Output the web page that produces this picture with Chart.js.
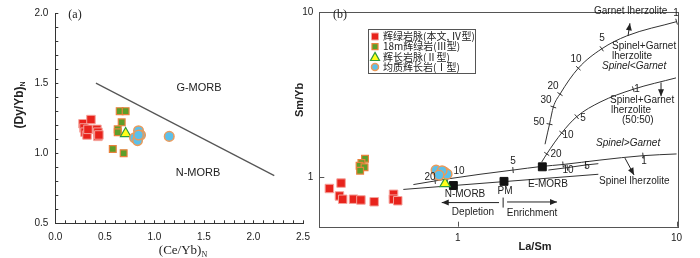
<!DOCTYPE html>
<html>
<head>
<meta charset="utf-8">
<script src="https://cdn.jsdelivr.net/npm/chart.js@4.4.0/dist/chart.umd.min.js"></script>
<style>
  body { margin: 0; background: #fff; }
  #wrap { position: relative; width: 700px; height: 258px; }
  #wrap canvas { position: absolute; left: 0; top: 0; }
</style>
</head>
<body>
<div id="wrap">
  <canvas id="chartA" width="700" height="258"></canvas>
  <canvas id="chartB" width="700" height="258"></canvas>
</div>
<script>
// ================= DATA: PANEL (a) =================
const aRedX = [0.28, 0.29, 0.30, 0.32, 0.33, 0.36, 0.42, 0.43, 0.43, 0.44];
const aRedY = [1.21, 1.18, 1.15, 1.13, 1.17, 1.24, 1.17, 1.15, 1.12, 1.13];
const aGreenX = [0.65, 0.71, 0.67, 0.63, 0.63, 0.58, 0.69];
const aGreenY = [1.30, 1.30, 1.22, 1.17, 1.15, 1.03, 1.00];
const aYellowX = [0.71];
const aYellowY = [1.14];
const aBlueX = [0.84, 0.86, 0.80, 0.83, 0.84, 1.15];
const aBlueY = [1.16, 1.13, 1.11, 1.09, 1.13, 1.12];
const aDivideX = [0.41, 2.21];
const aDivideY = [1.50, 0.84];
const aTicksX = [0.0, 0.5, 1.0, 1.5, 2.0, 2.5];
const aTicksY = [0.5, 1.0, 1.5, 2.0];

// ================= DATA: PANEL (b) =================
const bRedX = [0.259, 0.293, 0.288, 0.298, 0.334, 0.361, 0.415, 0.509, 0.508, 0.532];
const bRedY = [0.852, 0.919, 0.768, 0.733, 0.734, 0.726, 0.708, 0.786, 0.734, 0.718];
const bGreenX = [0.377, 0.363, 0.356, 0.375, 0.358];
const bGreenY = [1.290, 1.217, 1.169, 1.145, 1.092];
const bYellowX = [0.875];
const bYellowY = [0.912];
const bBlueX = [0.796, 0.839, 0.870, 0.894, 0.848, 0.821];
const bBlueY = [1.102, 1.048, 1.070, 1.041, 1.092, 1.027];
const refX = [0.955, 1.627, 2.435];   // N-MORB, PM, E-MORB
const refY = [0.888, 0.941, 1.153];
// melting curves
const garnetX = [2.505, 2.572, 2.627, 2.734, 2.933, 3.556, 4.549, 5.916, 10.0];
const garnetY = [1.580, 1.851, 2.091, 2.657, 3.180, 4.564, 5.983, 7.161, 8.74];
const mixX = [2.420, 2.551, 2.987, 3.496, 4.468, 6.342, 9.94];
const mixY = [1.233, 1.380, 1.851, 2.320, 2.843, 3.403, 3.987];
const spinelX = [0.627, 0.788, 0.894, 1.264, 1.789, 2.427, 3.027, 4.467, 7.023, 10.0];
const spinelY = [0.900, 0.947, 0.973, 1.039, 1.102, 1.160, 1.191, 1.267, 1.347, 1.380];
const spinelEX = [2.594, 3.168, 3.843, 4.39];
const spinelEY = [1.102, 1.140, 1.183, 1.205];
const mixingX = [0.564, 4.39];
const mixingY = [0.841, 1.039];
// arrows [x1, y1, x2, y2] in data units
const arrows = [
  [6.00, 7.16, 6.12, 8.54],
  [8.49, 3.74, 8.49, 3.09],
  [5.81, 1.302, 6.39, 1.030],
  [1.544, 0.700, 0.845, 0.700],
  [1.680, 0.706, 2.842, 0.706]
];
const bTicksX = [1, 10];
const bTicksY = [1, 10];

// tick marks on the melting curves (style only)
const garnetTick = [0, 0, 1, 1, 1, 1, 1, 0, 1];
const garnetRot = [0, 0, 12, 19, 32, 42, 55, 0, 74];
const mixTick = [0, 1, 1, 1, 0, 1, 0];
const mixRot = [0, 34, 38, 50, 0, 72, 0];
const spinelTick = [0, 1, 1, 0, 1, 0, 1, 0, 1, 0];
const spinelETick = [0, 1, 1, 0];

const SANS = "'Liberation Sans', Arial, sans-serif";
const SERIF = "'Liberation Serif', 'Times New Roman', serif";
const CJK = "'Noto Sans CJK SC', sans-serif";

const pts = (xs, ys) => xs.map((x, i) => ({ x, y: ys[i] }));

const redStyle = { pointStyle: "rect", pointRadius: 6, backgroundColor: "#e8231c", borderColor: "#f5a39c", borderWidth: 1 };
const greenStyle = { pointStyle: "rect", pointRadius: 4.8, backgroundColor: "#5d9e2a", borderColor: "#e8823c", borderWidth: 1.2 };
const yellowStyle = { pointStyle: "triangle", pointRadius: 6, backgroundColor: "#ffff1a", borderColor: "#2f9a3a", borderWidth: 1.2 };
const blueStyle = { pointStyle: "circle", pointRadius: 4.8, backgroundColor: "#5cc0ea", borderColor: "#eb9a5a", borderWidth: 1.5 };

function curve(xs, ys, ticks, rot) {
  return {
    data: pts(xs, ys), showLine: true, borderColor: "#333", borderWidth: 1,
    cubicInterpolationMode: "monotone",
    pointStyle: "line", pointRadius: ticks.map(t => t * 3), pointRotation: rot,
    pointBorderColor: "#333", pointBorderWidth: 1, pointBackgroundColor: "#333"
  };
}

function text(ctx, s, x, y, font, align) {
  ctx.font = font;
  ctx.textAlign = align || "center";
  ctx.textBaseline = "middle";
  ctx.fillStyle = "#222";
  ctx.fillText(s, x, y);
}

// title with a small subscript at the end
function subTitle(ctx, main, sub, x, y, font, subFont, rotate) {
  ctx.save();
  ctx.translate(x, y);
  if (rotate) ctx.rotate(-Math.PI / 2);
  ctx.font = font;
  const w1 = ctx.measureText(main).width;
  ctx.font = subFont;
  const w2 = sub ? ctx.measureText(sub).width : 0;
  const x0 = -(w1 + w2) / 2;
  ctx.fillStyle = "#222";
  ctx.textBaseline = "middle";
  ctx.textAlign = "left";
  ctx.font = font;
  ctx.fillText(main, x0, 0);
  if (sub) {
    ctx.font = subFont;
    ctx.fillText(sub, x0 + w1, 3.5);
  }
  ctx.restore();
}

function arrow(ctx, x1, y1, x2, y2) {
  ctx.beginPath(); ctx.moveTo(x1, y1); ctx.lineTo(x2, y2); ctx.stroke();
  const a = Math.atan2(y2 - y1, x2 - x1);
  ctx.beginPath();
  ctx.moveTo(x2, y2);
  ctx.lineTo(x2 - 7 * Math.cos(a) + 3 * Math.sin(a), y2 - 7 * Math.sin(a) - 3 * Math.cos(a));
  ctx.lineTo(x2 - 7 * Math.cos(a) - 3 * Math.sin(a), y2 - 7 * Math.sin(a) + 3 * Math.cos(a));
  ctx.closePath(); ctx.fill();
}

// ================= PANEL (a) =================
const decorA = {
  id: "decorA",
  afterDraw(chart) {
    const { ctx, chartArea: ca, scales: { x, y } } = chart;
    ctx.save();
    ctx.strokeStyle = "#333";
    ctx.lineWidth = 1;
    ctx.beginPath();
    for (let i = 0; i <= 25; i++) {
      const px = Math.round(x.getPixelForValue(i / 10)) + 0.5;
      ctx.moveTo(px, ca.bottom); ctx.lineTo(px, ca.bottom - 3);
    }
    for (let i = 5; i <= 20; i++) {
      const py = Math.round(y.getPixelForValue(i / 10)) + 0.5;
      ctx.moveTo(ca.left, py); ctx.lineTo(ca.left + 3, py);
    }
    ctx.stroke();
    text(ctx, "(a)", 75, 15, "12px " + SERIF);
    text(ctx, "G-MORB", 199, 88, "11px " + SANS);
    text(ctx, "N-MORB", 198, 173, "11px " + SANS);
    subTitle(ctx, "(Dy/Yb)", "N", 20, 105, "bold 12px " + SANS, "bold 7px " + SANS, true);
    subTitle(ctx, "(Ce/Yb)", "N", 183, 251, "13px " + SERIF, "8px " + SERIF, false);
    ctx.restore();
  }
};

new Chart(document.getElementById("chartA"), {
  type: "scatter",
  data: {
    datasets: [
      Object.assign({ data: pts(aBlueX, aBlueY) }, blueStyle),
      Object.assign({ data: pts(aYellowX, aYellowY) }, yellowStyle),
      Object.assign({ data: pts(aGreenX, aGreenY) }, greenStyle),
      Object.assign({ data: pts(aRedX, aRedY) }, redStyle),
      { data: pts(aDivideX, aDivideY), showLine: true, borderColor: "#555", borderWidth: 1.2, pointRadius: 0 }
    ]
  },
  options: {
    responsive: false,
    animation: false,
    events: [],
    layout: { autoPadding: false, padding: { left: 0, top: 4.3, right: 397, bottom: 0 } },
    plugins: { legend: { display: false }, tooltip: { enabled: false } },
    scales: {
      x: {
        type: "linear", min: 0, max: 2.5,
        afterFit: s => { s.height = 34.7; },
        afterBuildTicks: s => { s.ticks = aTicksX.map(v => ({ value: v })); },
        grid: { display: false, drawTicks: false },
        border: { display: true, color: "#333", width: 1 },
        ticks: { padding: 8, color: "#222", font: { family: SANS, size: 10 }, callback: v => v.toFixed(1) }
      },
      y: {
        type: "linear", min: 0.5, max: 2.0,
        afterFit: s => { s.width = 55.3; },
        afterBuildTicks: s => { s.ticks = aTicksY.map(v => ({ value: v })); },
        grid: { display: false, drawTicks: false },
        border: { display: true, color: "#333", width: 1 },
        ticks: { padding: 7, color: "#222", font: { family: SANS, size: 10 }, callback: v => v.toFixed(1) }
      }
    }
  },
  plugins: [decorA]
});

// ================= PANEL (b) =================
const legendItems = [
  { label: "辉绿岩脉(本文, Ⅳ型)", style: redStyle, size: 3.5 },
  { label: "18m辉绿岩(Ⅲ型)", style: greenStyle, size: 3 },
  { label: "辉长岩脉(Ⅱ型)", style: yellowStyle, size: 4.5 },
  { label: "均质辉长岩(Ⅰ型)", style: blueStyle, size: 3.5 }
];

function marker(ctx, style, x, y, r) {
  ctx.fillStyle = style.backgroundColor;
  ctx.strokeStyle = style.borderColor;
  ctx.lineWidth = style.borderWidth;
  ctx.beginPath();
  if (style.pointStyle === "rect") ctx.rect(x - r, y - r, 2 * r, 2 * r);
  else if (style.pointStyle === "circle") ctx.arc(x, y, r, 0, Math.PI * 2);
  else { ctx.moveTo(x, y - r); ctx.lineTo(x + r, y + r * 0.8); ctx.lineTo(x - r, y + r * 0.8); ctx.closePath(); }
  ctx.fill(); ctx.stroke();
}

const decorB = {
  id: "decorB",
  afterDraw(chart) {
    const { ctx, chartArea: ca, scales: { x, y } } = chart;
    ctx.save();
    // frame and inward ticks
    ctx.strokeStyle = "#555";
    ctx.lineWidth = 1;
    ctx.strokeRect(Math.round(ca.left) + 0.5, Math.round(ca.top) + 0.5,
      Math.round(ca.right - ca.left), Math.round(ca.bottom - ca.top));
    ctx.beginPath();
    bTicksX.forEach(v => {
      const px = Math.round(x.getPixelForValue(v)) + 0.5;
      ctx.moveTo(px, ca.bottom); ctx.lineTo(px, ca.bottom - 5);
    });
    bTicksY.forEach(v => {
      const py = Math.round(y.getPixelForValue(v)) + 0.5;
      ctx.moveTo(ca.left, py); ctx.lineTo(ca.left + 5, py);
    });
    ctx.stroke();

    // arrows
    ctx.strokeStyle = "#222";
    ctx.fillStyle = "#222";
    arrows.forEach(a => arrow(ctx, x.getPixelForValue(a[0]), y.getPixelForValue(a[1]),
      x.getPixelForValue(a[2]), y.getPixelForValue(a[3])));
    const sx = x.getPixelForValue((arrows[3][0] + arrows[4][0]) / 2);
    const sy = y.getPixelForValue(arrows[3][1]);
    ctx.beginPath(); ctx.moveTo(sx, sy - 5); ctx.lineTo(sx, sy + 5); ctx.stroke();

    // legend
    ctx.strokeStyle = "#555";
    ctx.lineWidth = 1;
    ctx.strokeRect(368.5, 29.5, 107, 44);
    legendItems.forEach((it, i) => {
      const ry = 36.5 + i * 10.2;
      marker(ctx, it.style, 375, ry, it.size);
      text(ctx, it.label, 383, ry, "10px " + CJK, "left");
    });

    // annotations
    const F = "10px " + SANS, FI = "italic 10px " + SANS;
    text(ctx, "(b)", 340, 15, "12px " + SERIF);
    text(ctx, "Garnet lherzolite", 594, 11, F, "left");
    text(ctx, "Spinel+Garnet", 612, 46, F, "left");
    text(ctx, "lherzolite", 612, 56, F, "left");
    text(ctx, "Spinel<Garnet", 602, 66, FI, "left");
    text(ctx, "Spinel+Garnet", 610, 100, F, "left");
    text(ctx, "lherzolite", 611, 110, F, "left");
    text(ctx, "(50:50)", 622, 120, F, "left");
    text(ctx, "Spinel>Garnet", 596, 143, FI, "left");
    text(ctx, "Spinel lherzolite", 599, 181, F, "left");
    text(ctx, "N-MORB", 465, 194, F);
    text(ctx, "PM", 505, 191, F);
    text(ctx, "E-MORB", 548, 184, F);
    text(ctx, "Depletion", 473, 212, F);
    text(ctx, "Enrichment", 532, 213, F);
    [["1", 676, 13], ["5", 602, 38], ["10", 576, 59], ["20", 553, 86], ["30", 546, 100], ["50", 539, 122],
     ["1", 637, 89], ["5", 583, 118], ["10", 568, 135], ["20", 556, 154],
     ["5", 513, 161], ["1", 644, 161], ["10", 459, 171], ["20", 430, 177],
     ["10", 568, 170], ["5", 587, 166]].forEach(t => text(ctx, t[0], t[1], t[2], F));

    subTitle(ctx, "Sm/Yb", "", 300, 100, "bold 11px " + SANS, "", true);
    subTitle(ctx, "La/Sm", "", 535, 247, "bold 11px " + SANS, "", false);
    ctx.restore();
  }
};

new Chart(document.getElementById("chartB"), {
  type: "scatter",
  data: {
    datasets: [
      Object.assign({ data: pts(bBlueX, bBlueY) }, blueStyle),
      Object.assign({ data: pts(bYellowX, bYellowY) }, yellowStyle),
      Object.assign({ data: pts(bGreenX, bGreenY) }, greenStyle),
      Object.assign({ data: pts(bRedX, bRedY) }, redStyle),
      { data: pts(refX, refY), pointStyle: "rect", pointRadius: 5.6, backgroundColor: "#111", borderColor: "#111", borderWidth: 1 },
      curve(garnetX, garnetY, garnetTick, garnetRot),
      curve(mixX, mixY, mixTick, mixRot),
      curve(spinelX, spinelY, spinelTick, spinelTick.map(() => 85)),
      curve(spinelEX, spinelEY, spinelETick, spinelETick.map(() => 85)),
      { data: pts(mixingX, mixingY), showLine: true, borderColor: "#333", borderWidth: 1, pointRadius: 0 }
    ]
  },
  options: {
    responsive: false,
    animation: false,
    events: [],
    layout: { autoPadding: false, padding: { left: 290, top: 5.3, right: 22, bottom: 0 } },
    plugins: { legend: { display: false }, tooltip: { enabled: false } },
    scales: {
      x: {
        type: "logarithmic", min: 0.233, max: 10.15,
        afterFit: s => { s.height = 31.3; },
        afterBuildTicks: s => { s.ticks = bTicksX.map(v => ({ value: v })); },
        grid: { display: false, drawTicks: false },
        border: { display: false },
        ticks: { padding: 6, color: "#222", font: { family: SANS, size: 10 }, callback: v => String(v) }
      },
      y: {
        type: "logarithmic", min: 0.5, max: 10,
        afterFit: s => { s.width = 29.3; },
        afterBuildTicks: s => { s.ticks = bTicksY.map(v => ({ value: v })); },
        grid: { display: false, drawTicks: false },
        border: { display: false },
        ticks: { padding: 6, color: "#222", font: { family: SANS, size: 10 }, callback: v => String(v) }
      }
    }
  },
  plugins: [decorB]
});
</script>
</body>
</html>
